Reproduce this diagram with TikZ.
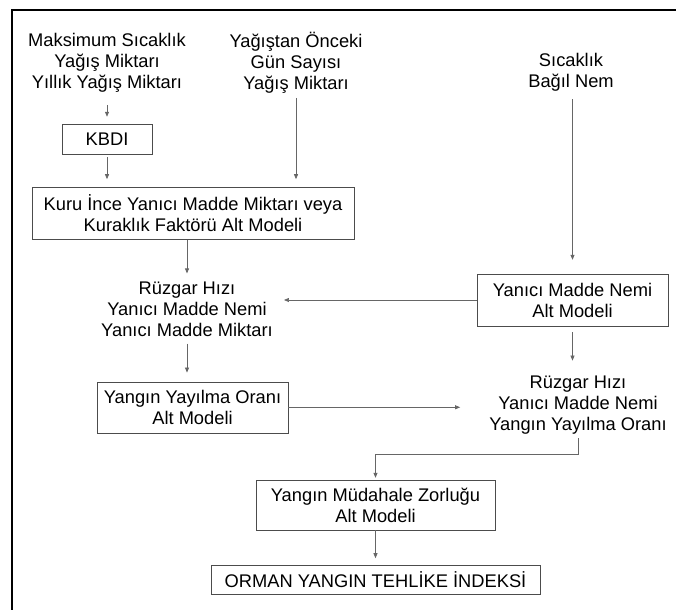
\documentclass[tikz,border=0pt]{standalone}
\usepackage{fontspec}
\setmainfont{Liberation Sans}
\usetikzlibrary{arrows.meta,positioning}

\begin{document}
\begin{tikzpicture}[x=1pt,y=-1pt,font=\fontsize{18.3}{21}\selectfont,
  box/.style={draw=black!70,align=center,inner sep=0pt},
  txt/.style={align=center,inner sep=0pt},
  arrow/.style={-{Triangle[length=5pt,width=4pt]},draw=black!60,line width=0.7pt}]
\useasboundingbox (0,0) rectangle (676,610);
\draw[line width=2pt] (676,10) -- (12,10) -- (12,610);
% inputs
\node[txt] (in1) at (107,63) {Maksimum Sıcaklık\\Yağış Miktarı\\Yıllık Yağış Miktarı};
\node[txt] (in2) at (296,63) {Yağıştan Önceki\\Gün Sayısı\\Yağış Miktarı};
\node[txt] (in3) at (571,72) {Sıcaklık\\Bağıl Nem};
% models
\node[box,minimum width=90pt,minimum height=30pt,below=31pt of in1] (kbdi) {KBDI};
\node[box,minimum width=322pt,minimum height=52pt,below=33pt of kbdi,xshift=86pt] (kuru) {Kuru İnce Yanıcı Madde Miktarı veya\\Kuraklık Faktörü Alt Modeli};
\node[txt] (mid1) at (187,309) {Rüzgar Hızı\\Yanıcı Madde Nemi\\Yanıcı Madde Miktarı};
\node[box,minimum width=191pt,minimum height=52pt] (ymn) at (572.5,300) {Yanıcı Madde Nemi\\Alt Modeli};
\node[box,minimum width=191pt,minimum height=51pt,below=45pt of mid1,xshift=5.5pt] (yyo) {Yangın Yayılma Oranı\\Alt Modeli};
\node[txt] (mid2) at (578,405) {Rüzgar Hızı\\Yanıcı Madde Nemi\\Yangın Yayılma Oranı};
\node[box,minimum width=239pt,minimum height=50pt] (ymz) at (375.5,505) {Yangın Müdahale Zorluğu\\Alt Modeli};
\node[box,minimum width=329pt,minimum height=29pt,below=35pt of ymz] (oyti) {ORMAN YANGIN TEHLİKE İNDEKSİ};
% connectors
\draw[arrow,shorten <=12pt,shorten >=7pt] (in1) -- (kbdi);
\draw[arrow,shorten <=3pt,shorten >=8pt] (kbdi) -- (kbdi.south |- kuru.north);
\draw[arrow,shorten <=4pt,shorten >=8pt] (in2) -- (in2.south |- kuru.north);
\draw[arrow,shorten <=8pt,shorten >=14pt] (ymn.north |- in3.south) -- (ymn.north);
\draw[arrow,shorten >=8pt] (mid1.north |- kuru.south) -- (mid1.north);
\draw[arrow,shorten >=11pt] (ymn.west) -- (mid1.east |- ymn.west);
\draw[arrow,shorten <=7pt,shorten >=9pt] (mid1) -- (mid1.south |- yyo.north);
\draw[arrow,shorten >=29pt] (yyo.east) -- (mid2.west |- yyo.east);
\draw[arrow,shorten <=6pt,shorten >=15pt] (ymn.south) -- (ymn.south |- mid2.north);
\draw[arrow,shorten <=4pt,shorten >=2pt] (mid2.south) -- ++(0,20) -| (ymz.north);
\draw[arrow,shorten >=7pt] (ymz) -- (oyti);
\end{tikzpicture}
\end{document}
